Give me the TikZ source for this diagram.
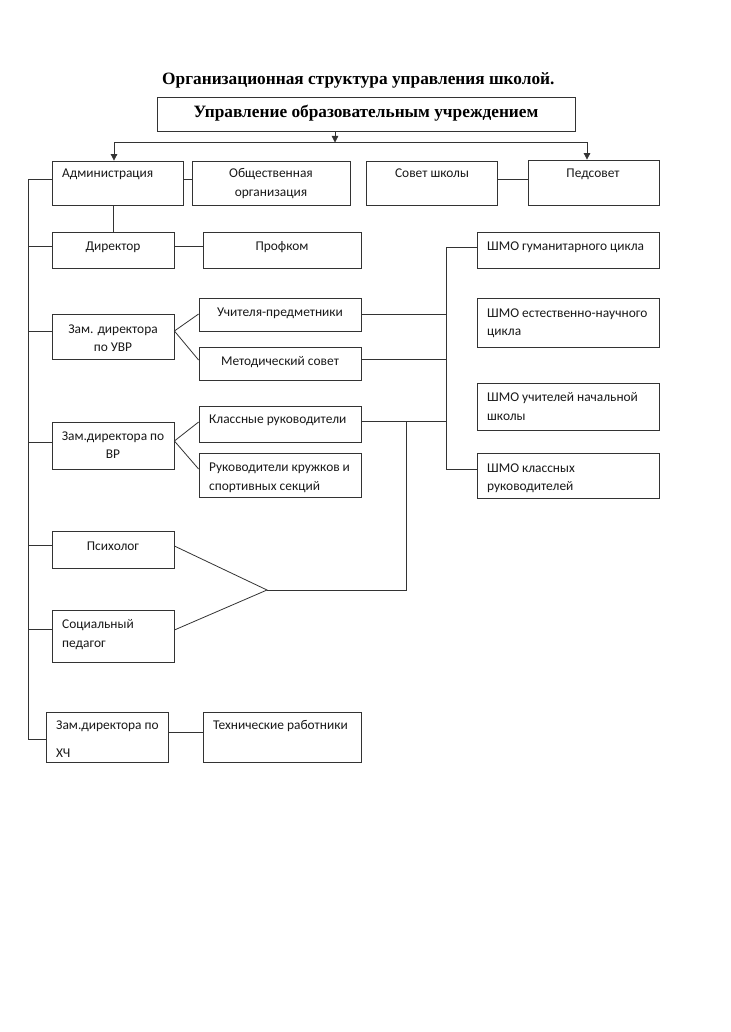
\documentclass[tikz,border=0pt]{standalone}
\usepackage{fontspec}
\setmainfont{Carlito}
\newfontfamily\titlefont{Liberation Serif}
\usetikzlibrary{arrows.meta}
\newcommand\mybox[5]{\node[box,minimum width={#4pt-#2pt},minimum height={#5pt-#3pt}] (#1) at ({(#2+#4)/2},{(#3+#5)/2}) {};}
\begin{document}
\begin{tikzpicture}[x=1pt,y=-1pt,
  box/.style={draw=black!80, line width=0.8pt, inner sep=0pt},
  conn/.style={draw=black!80, line width=0.8pt},
  arr/.style={conn, -{Triangle[length=6.5pt,width=6.5pt]}},
  txt/.style={inner sep=0pt, font=\fontsize{13.4}{18.5}\selectfont, text=black!90},
  ttl/.style={inner sep=0pt, font=\titlefont\bfseries\fontsize{17.3}{20}\selectfont}]
\useasboundingbox[fill=white] (0,0) rectangle (730,1032);

% boxes
\mybox{top}{157}{97}{575}{131}
\mybox{adm}{52}{161}{183}{205}
\mybox{obsh}{192}{161}{350}{205}
\mybox{sovet}{366}{161}{497}{205}
\mybox{ped}{528}{160}{659}{205}
\mybox{dir}{52}{232}{174}{268}
\mybox{prof}{203}{232}{361}{268}
\mybox{uvr}{52}{314}{174}{359}
\mybox{uch}{199}{298}{361}{331}
\mybox{met}{199}{347}{361}{380}
\mybox{vr}{52}{422}{174}{469}
\mybox{kl}{199}{406}{361}{442}
\mybox{kruzh}{199}{453}{361}{497}
\mybox{psy}{52}{531}{174}{568}
\mybox{soc}{52}{610}{174}{662}
\mybox{xch}{46}{712}{168}{762}
\mybox{tech}{203}{712}{361}{762}
\mybox{shmoA}{477}{232}{659}{268}
\mybox{shmoB}{477}{298}{659}{347}
\mybox{shmoC}{477}{383}{659}{430}
\mybox{shmoD}{477}{453}{659}{498}

% texts (multi-line nodes are placed by the baseline of their last line)
\node[ttl, anchor=base west] (title) at (162,85) {Организационная структура управления школой.};
\node[ttl, anchor=base] (top-t) at (366,118) {Управление образовательным учреждением};
\node[txt, anchor=base west] (adm-t) at (62,178) {Администрация};
\node[txt, anchor=base, align=center] (obsh-t) at (271,196.5) {Общественная\\организация};
\node[txt, anchor=base] (sovet-t) at (432,178) {Совет школы};
\node[txt, anchor=base] (ped-t) at (593,178) {Педсовет};
\node[txt, anchor=base] (dir-t) at (113,250) {Директор};
\node[txt, anchor=base] (prof-t) at (282,250) {Профком};
\node[txt, anchor=base, align=center] (uvr-t) at (113,351.5) {Зам. директора\\по УВР};
\node[txt, anchor=base] (uch-t) at (280,316) {Учителя-предметники};
\node[txt, anchor=base] (met-t) at (280,365) {Методический совет};
\node[txt, anchor=base, align=center] (vr-t) at (113,458.5) {Зам.директора по\\ВР};
\node[txt, anchor=base west] (kl-t) at (209,423) {Классные руководители};
\node[txt, anchor=base west, align=left] (kruzh-t) at (209,490) {Руководители кружков и\\спортивных секций};
\node[txt, anchor=base] (psy-t) at (113,550) {Психолог};
\node[txt, anchor=base west, align=left] (soc-t) at (62,647) {Социальный\\педагог};
\node[txt, anchor=base west, align=left] (xch-t) at (56,757) {Зам.директора по\\[9pt]ХЧ};
\node[txt, anchor=base west] (tech-t) at (213,729) {Технические работники};
\node[txt, anchor=base west] (shmoA-t) at (487,251) {ШМО гуманитарного цикла};
\node[txt, anchor=base west, align=left] (shmoB-t) at (487,335.5) {ШМО естественно-научного\\цикла};
\node[txt, anchor=base west, align=left] (shmoC-t) at (487,420) {ШМО учителей начальной\\школы};
\node[txt, anchor=base west, align=left] (shmoD-t) at (487,490.5) {ШМО классных\\руководителей};

% top connectors
\coordinate (j0) at (335,142.5);
\coordinate (jl) at (114,142.5);
\coordinate (jr) at (587,142.5);
\draw[arr] (top.south -| j0) -- (j0);
\draw[conn] (jl) -- (jr);
\draw[arr] (jl) -- (adm.north -| jl);
\draw[arr] (jr) -- (ped.north -| jr);
\draw[conn] (adm.east |- 0,179) -- (obsh.west |- 0,179);
\draw[conn] (sovet.east |- 0,179) -- (ped.west |- 0,179);
\draw[conn] (adm.south -| dir.north) -- (dir.north);

% left bus
\coordinate (b0) at (28,179);
\coordinate (b1) at (28,739);
\draw[conn] (adm.west |- b0) -- (b0) -- (b1) -- (xch.west |- b1);
\draw[conn] (b0 |- 0,246) -- (dir.west |- 0,246);
\draw[conn] (b0 |- 0,331) -- (uvr.west |- 0,331);
\draw[conn] (b0 |- 0,442) -- (vr.west |- 0,442);
\draw[conn] (b0 |- 0,545) -- (psy.west |- 0,545);
\draw[conn] (b0 |- 0,629) -- (soc.west |- 0,629);

% side links
\draw[conn] (dir.east |- 0,246) -- (prof.west |- 0,246);
\draw[conn] (uch.west |- 0,314) -- (uvr.east |- 0,331) -- (met.west |- 0,360);
\draw[conn] (kl.west |- 0,422) -- (vr.east |- 0,441) -- (kruzh.west |- 0,469);
\draw[conn] (xch.east |- 0,732) -- (tech.west |- 0,732);

% SHMO bracket
\coordinate (k1) at (446,247);
\coordinate (k2) at (446,469);
\draw[conn] (shmoA.west |- k1) -- (k1) -- (k2) -- (shmoD.west |- k2);
\draw[conn] (uch.east |- 0,314) -- (k1 |- 0,314);
\draw[conn] (met.east |- 0,359) -- (k1 |- 0,359);
\draw[conn] (kl.east |- 0,421) -- (k1 |- 0,421);

% psychologist / social pedagogue merge
\coordinate (m) at (267,590);
\coordinate (v) at (406,590);
\draw[conn] (psy.east |- 0,546) -- (m) -- (soc.east |- 0,630);
\draw[conn] (m) -- (v) -- (v |- 0,421);
\end{tikzpicture}
\end{document}
